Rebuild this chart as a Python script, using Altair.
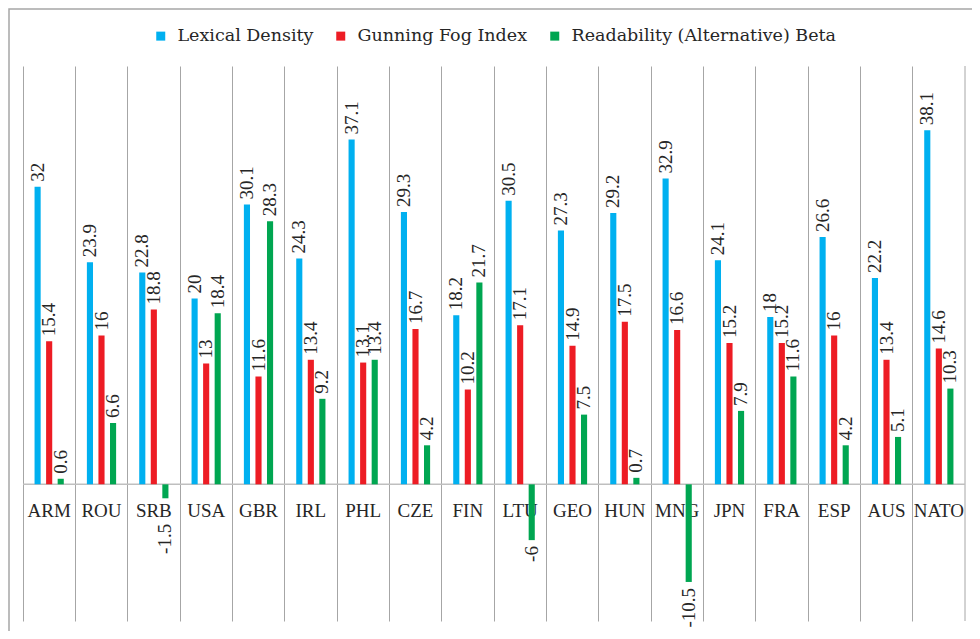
import altair as alt
import pandas as pd

categories = ["ARM", "ROU", "SRB", "USA", "GBR", "IRL", "PHL", "CZE", "FIN",
              "LTU", "GEO", "HUN", "MNG", "JPN", "FRA", "ESP", "AUS", "NATO"]
lexical_density = [32, 23.9, 22.8, 20, 30.1, 24.3, 37.1, 29.3, 18.2,
                   30.5, 27.3, 29.2, 32.9, 24.1, 18, 26.6, 22.2, 38.1]
gunning_fog = [15.4, 16, 18.8, 13, 11.6, 13.4, 13.1, 16.7, 10.2,
               17.1, 14.9, 17.5, 16.6, 15.2, 15.2, 16, 13.4, 14.6]
readability_beta = [0.6, 6.6, -1.5, 18.4, 28.3, 9.2, 13.4, 4.2, 21.7,
                    -6, 7.5, 0.7, -10.5, 7.9, 11.6, 4.2, 5.1, 10.3]
series_names = ["Lexical Density", "Gunning Fog Index", "Readability (Alternative) Beta"]
series_colors = ["#00B0F0", "#ED1C24", "#00A651"]

rows = []
for i, c in enumerate(categories):
    for s, vals in zip(series_names, [lexical_density, gunning_fog, readability_beta]):
        v = vals[i]
        rows.append({"country": c, "series": s, "value": v, "label": f"{v:g}"})
df = pd.DataFrame(rows)
cat_df = pd.DataFrame({"country": categories, "zero": [0] * len(categories)})

W, H = 942, 555
TXT = "#262626"
FONT = "Liberation Serif"
NEG_LABEL_MIN = -3.6  # negative labels are pushed below the category-label band

x_enc = alt.X("country:N", sort=categories,
              scale=alt.Scale(paddingInner=0, paddingOuter=0),
              axis=alt.Axis(grid=True, bandPosition=0, labels=False, ticks=False,
                            domain=False, title=None, gridColor="#A6A6A6", gridWidth=1))
y_scale = alt.Scale(domain=[-14.7, 45], nice=False, zero=False)
xoff = alt.XOffset("series:N", sort=series_names,
                   scale=alt.Scale(paddingInner=0.47, paddingOuter=1.0))

base = alt.Chart(df)

# outer frame (left/top visible)
frame = alt.Chart(cat_df.head(1)).mark_rect(fill=None, stroke="#A6A6A6", strokeWidth=1.5).encode(
    x=alt.value(-14), x2=alt.value(W + 40), y=alt.value(-57), y2=alt.value(H + 40)
)

right_line = alt.Chart(cat_df.head(1)).mark_rule(color="#A6A6A6", strokeWidth=1).encode(
    x=alt.value(W), y=alt.value(0), y2=alt.value(H)
)

zero_line = alt.Chart(cat_df.head(1)).mark_rule(color="#BFBFBF", strokeWidth=1.5).encode(
    y=alt.Y("zero:Q", scale=y_scale, axis=None)
)

cat_labels = alt.Chart(cat_df).mark_text(
    font=FONT, fontSize=19, color=TXT, baseline="alphabetic", align="center", dy=33
).encode(
    x=x_enc,
    y=alt.Y("zero:Q", scale=y_scale, axis=None),
    text="country:N",
)

bars = base.mark_bar().encode(
    x=x_enc,
    xOffset=xoff,
    y=alt.Y("value:Q", scale=y_scale, axis=None),
    y2=alt.datum(0),
    color=alt.Color("series:N", sort=series_names,
                    scale=alt.Scale(domain=series_names, range=series_colors),
                    legend=alt.Legend(orient="none", legendX=129, legendY=-39,
                                      direction="horizontal", columns=3, title=None,
                                      symbolType="square", symbolSize=81,
                                      symbolStrokeWidth=0, labelFont="DejaVu Serif",
                                      labelFontSize=17.5, labelColor=TXT,
                                      labelOffset=8, columnPadding=18,
                                      labelLimit=400)),
)

pos_labels = base.transform_filter(alt.datum.value >= 0).mark_text(
    font=FONT, fontSize=19, color=TXT, angle=270, align="left", baseline="middle", dx=5
).encode(
    x=x_enc, xOffset=xoff,
    y=alt.Y("value:Q", scale=y_scale, axis=None),
    text="label:N",
)

neg_labels = base.transform_filter(alt.datum.value < 0).transform_calculate(
    label_y=f"min(datum.value, {NEG_LABEL_MIN})"
).mark_text(
    font=FONT, fontSize=19, color=TXT, angle=270, align="right", baseline="middle", dx=-6
).encode(
    x=x_enc, xOffset=xoff,
    y=alt.Y("label_y:Q", scale=y_scale, axis=None),
    text="label:N",
)

chart = alt.layer(frame, right_line, zero_line, cat_labels, bars, pos_labels, neg_labels).properties(
    width=W, height=H,
    autosize=alt.AutoSizeParams(type="none"),
    padding={"left": 15, "top": 58, "right": 7, "bottom": 10},
).configure_view(stroke=None)

chart.save("out.html", embed_options={"renderer": "svg", "actions": False})
